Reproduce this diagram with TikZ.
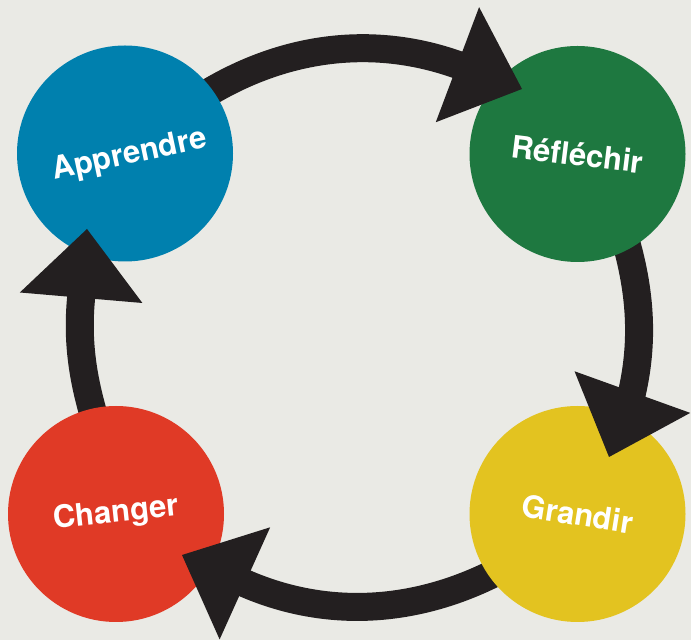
\documentclass[tikz,border=0pt]{standalone}
\usepackage{fontspec}
\setmainfont{TeX Gyre Heros}
\usetikzlibrary{arrows.meta}
\pgfdeclarelayer{back}
\pgfsetlayers{back,main}

\definecolor{paper}{RGB}{234,234,229}
\definecolor{ink}{RGB}{35,31,32}
\definecolor{apprendreblue}{RGB}{0,128,174}
\definecolor{reflechirgreen}{RGB}{30,120,64}
\definecolor{grandiryellow}{RGB}{227,195,32}
\definecolor{changerred}{RGB}{224,58,38}

\begin{document}
\begin{tikzpicture}[x=1pt,y=1pt,
    phase/.style={circle,minimum size=216pt,inner sep=0pt,outer sep=0pt},
    word/.style={text=white,font=\bfseries\fontsize{31}{31}\selectfont},
    band/.style={draw=ink,line width=28pt},
    head/.style={-{Triangle[length=69pt,width=123pt,line width=0pt]}}]

\begin{pgfonlayer}{back}
\fill[paper] (0,0) rectangle (691,640);
\end{pgfonlayer}
\useasboundingbox (0,0) rectangle (691,640);

\node[phase,fill=apprendreblue,label={[word,rotate=12,xshift=4pt,yshift=-3pt]center:Apprendre}] (apprendre) at (125,486.5) {};
\node[phase,fill=reflechirgreen,label={[word,rotate=-7]center:Réfléchir}] (reflechir) at (577.5,486) {};
\node[phase,fill=grandiryellow,label={[word,rotate=-9]center:Grandir}] (grandir) at (577.5,126) {};
\node[phase,fill=changerred,label={[word,rotate=6]center:Changer}] (changer) at (116,126) {};

\coordinate (tip1) at (522,551);
\coordinate (tip2) at (609,183);
\coordinate (tip3) at (182,85);
\coordinate (tip4) at (87,411);

% bands run under the circles
\begin{pgfonlayer}{back}
\draw[band,shorten <=-12pt,shorten >=-3pt] (apprendre.36.7) arc[start angle=121.9,end angle=69.7,radius=281] coordinate (base1);
\draw[band,shorten <=-12pt,shorten >=-3pt] (reflechir.298.9) arc[start angle=16.3,end angle=-13.5,radius=281] coordinate (base2);
\draw[band,shorten <=-12pt,shorten >=-3pt] (grandir.215.6) arc[start angle=-62.5,end angle=-114.5,radius=281] coordinate (base3);
\draw[band,shorten <=-12pt,shorten >=-3pt] (changer.103.4) arc[start angle=196.9,end angle=174,radius=281] coordinate (base4);
\end{pgfonlayer}

% heads go over them
\foreach \i in {1,...,4}
  \draw[band,head] (base\i) -- (tip\i);

\end{tikzpicture}
\end{document}
